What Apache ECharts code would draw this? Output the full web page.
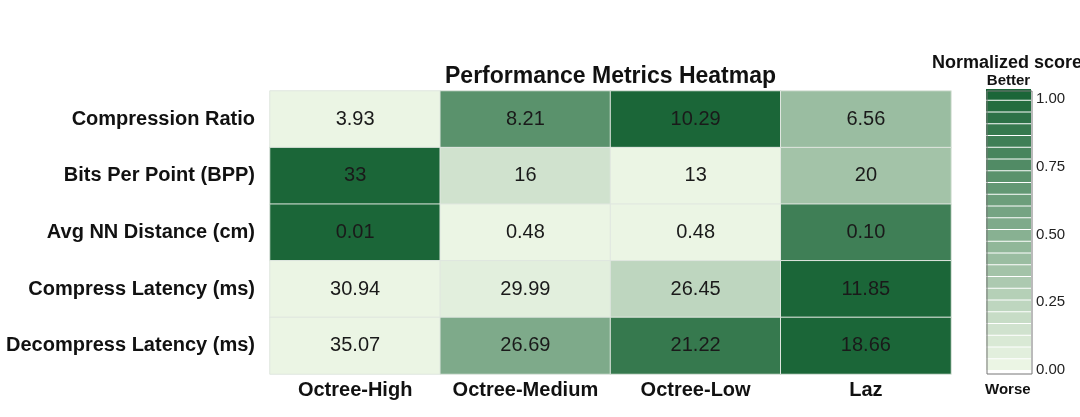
<!DOCTYPE html>
<html>
<head>
<meta charset="utf-8">
<style>
  html, body { margin: 0; padding: 0; background: #fff; }
  #chart { width: 1080px; height: 417px; }
</style>
<script src="https://cdn.jsdelivr.net/npm/echarts@6/dist/echarts.min.js"></script>
</head>
<body>
<div id="chart"></div>
<script>
var methods = ['Octree-High', 'Octree-Medium', 'Octree-Low', 'Laz'];
var metrics = ['Compression Ratio', 'Bits Per Point (BPP)', 'Avg NN Distance (cm)', 'Compress Latency (ms)', 'Decompress Latency (ms)'];

var compressionRatio = [3.93, 8.21, 10.29, 6.56];
var bitsPerPoint = [33, 16, 13, 20];
var avgNNDistance = [0.01, 0.48, 0.48, 0.10];
var compressLatency = [30.94, 29.99, 26.45, 11.85];
var decompressLatency = [35.07, 26.69, 21.22, 18.66];

var rows = [compressionRatio, bitsPerPoint, avgNNDistance, compressLatency, decompressLatency];
var higherIsBetter = [true, true, false, false, false];
var decimals = [2, 0, 2, 2, 2];
var barTicks = [0, 0.25, 0.5, 0.75, 1];

// min-max per row, flipped where lower is better
var cells = [];
rows.forEach(function (vals, r) {
  var lo = Math.min.apply(null, vals);
  var hi = Math.max.apply(null, vals);
  vals.forEach(function (v, c) {
    var s = hi === lo ? 0 : (v - lo) / (hi - lo);
    if (!higherIsBetter[r]) s = 1 - s;
    cells.push([c, r, s, v.toFixed(decimals[r])]);
  });
});

var chart = echarts.init(document.getElementById('chart'));
var font = "'Liberation Sans', Arial, sans-serif";
var endText = { fontSize: 15, fontWeight: 'bold', color: '#111', fontFamily: font };

var option = {
  backgroundColor: '#fff',
  textStyle: { fontFamily: font },
  title: [
    {
      text: 'Performance Metrics Heatmap',
      left: 440,
      top: 60,
      textStyle: { fontSize: 23, fontWeight: 'bold', color: '#111', fontFamily: font }
    },
    {
      text: 'Normalized score',
      left: 927,
      top: 49,
      textStyle: { fontSize: 18, fontWeight: 'bold', color: '#111', fontFamily: font }
    },
    {
      text: 'Worse',
      left: 980,
      top: 377,
      textStyle: endText
    }
  ],
  grid: [
    { left: 270, top: 91, width: 681, height: 283 },
    { left: 987, top: 91, width: 45, height: 283, show: true, borderColor: '#777', borderWidth: 1, backgroundColor: 'transparent', z: 10 }
  ],
  xAxis: [
    {
      type: 'category',
      data: methods,
      gridIndex: 0,
      position: 'bottom',
      axisLine: { show: false },
      axisTick: { show: false },
      axisLabel: { interval: 0, fontSize: 20, fontWeight: 'bold', color: '#111', margin: 6, fontFamily: font }
    },
    { type: 'value', gridIndex: 1, show: false, min: 0, max: 1 }
  ],
  yAxis: [
    {
      type: 'category',
      data: metrics,
      gridIndex: 0,
      inverse: true,
      axisLine: { show: false },
      axisTick: { show: false },
      axisLabel: { interval: 0, fontSize: 20, fontWeight: 'bold', color: '#111', margin: 15, fontFamily: font }
    },
    {
      type: 'value',
      gridIndex: 1,
      position: 'right',
      min: -0.015,
      max: 1.03,
      splitLine: { show: false },
      axisLine: { show: false },
      axisTick: { show: false },
      axisLabel: {
        customValues: barTicks,
        fontSize: 15,
        color: '#222',
        margin: 4,
        fontFamily: font,
        formatter: function (v) { return v.toFixed(2); }
      }
    }
  ],
  visualMap: {
    type: 'piecewise',
    dimension: 2,
    seriesIndex: 0,
    min: 0,
    max: 1,
    splitNumber: 24,
    orient: 'vertical',
    left: 971,
    top: 58,
    itemWidth: 45,
    itemHeight: 10.75,
    itemGap: 1,
    itemSymbol: 'rect',
    showLabel: false,
    hoverLink: false,
    selectedMode: false,
    text: ['{b|Better}', ''],
    textStyle: {
      fontSize: 15, fontWeight: 'bold', color: '#111', fontFamily: font,
      rich: {
        b: Object.assign({ padding: [0, 0, 2, 0] }, endText)
      }
    },
    inRange: { color: ['#ebf5e4', '#1b6638'] }
  },
  series: [
    {
      type: 'heatmap',
      xAxisIndex: 0,
      yAxisIndex: 0,
      data: cells,
      label: {
        show: true,
        fontSize: 20,
        color: '#1a1a1a',
        fontFamily: font,
        formatter: function (p) { return p.data[3]; }
      },
      itemStyle: { borderColor: '#dfe6df', borderWidth: 1 },
      emphasis: { disabled: true }
    }
  ]
};

option && chart.setOption(option);
</script>
</body>
</html>
